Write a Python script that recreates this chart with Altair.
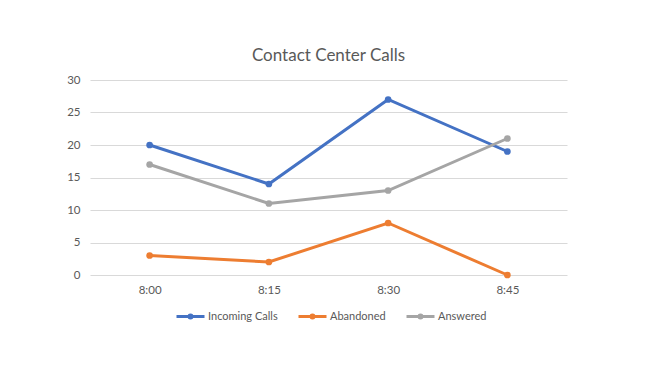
import altair as alt
import pandas as pd

times = ["8:00", "8:15", "8:30", "8:45"]
series_names = ["Incoming Calls", "Abandoned", "Answered"]
incoming = [20, 14, 27, 19]
abandoned = [3, 2, 8, 0]
answered = [17, 11, 13, 21]
colors = ["#4472C4", "#ED7D31", "#A5A5A5"]
y_ticks = [0, 5, 10, 15, 20, 25, 30]

rows = []
for name, vals in zip(series_names, [incoming, abandoned, answered]):
    for t, v in zip(times, vals):
        rows.append({"time": t, "series": name, "value": v, "order": series_names.index(name)})
df = pd.DataFrame(rows)

FONT = "Lato"
TXT = "#595959"

legend_symbol = "M-1,0L1,0M0.107,0A0.107,0.107 0 1,1 -0.107,0A0.107,0.107 0 1,1 0.107,0Z"

chart = alt.Chart(df).mark_line(
    strokeWidth=3,
    point=alt.OverlayMarkDef(filled=True, size=45, opacity=1),
).encode(
    x=alt.X("time:O", sort=times, title=None,
            scale=alt.Scale(type="point", padding=0.5),
            axis=alt.Axis(labelAngle=0, domain=False, ticks=False, grid=False,
                          labelPadding=9, labelFontSize=11.5, labelColor=TXT, labelFont=FONT)),
    y=alt.Y("value:Q", title=None,
            scale=alt.Scale(domain=[0, 30], nice=False),
            axis=alt.Axis(values=y_ticks, domain=False, ticks=False, gridColor="#D9D9D9",
                          labelPadding=10, labelFontSize=11.5, labelColor=TXT, labelFont=FONT)),
    color=alt.Color("series:N", sort=series_names,
                    scale=alt.Scale(domain=series_names, range=colors),
                    legend=alt.Legend(title=None, orient="none", direction="horizontal",
                                      legendX=85, legendY=221,
                                      symbolType=legend_symbol, symbolSize=784,
                                      symbolStrokeWidth=3, symbolOpacity=1,
                                      labelFont=FONT, labelFontSize=11, labelColor=TXT,
                                      labelOffset=2, columnPadding=14)),
    order=alt.Order("order:Q"),
    detail="series:N",
).properties(
    width=477,
    height=195,
    background="white",
    title=alt.TitleParams("Contact Center Calls", font=FONT, fontSize=17,
                          fontWeight="normal", color=TXT, offset=9),
    autosize=alt.AutoSizeParams(type="none"),
    padding={"left": 82, "top": 72, "right": 93, "bottom": 100},
).configure_view(stroke="transparent", strokeWidth=0)

chart.save("out.html", embed_options={"renderer": "svg", "actions": False})
